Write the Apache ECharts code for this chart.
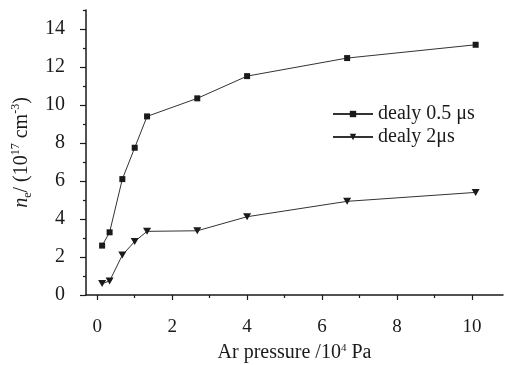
<!DOCTYPE html>
<html>
<head>
<meta charset="utf-8">
<script src="https://cdn.jsdelivr.net/npm/echarts@6/dist/echarts.min.js"></script>
<style>
  html, body { margin: 0; padding: 0; background: #fff; }
  #chart { width: 506px; height: 365px; }
</style>
</head>
<body>
<div id="chart"></div>
<script>
// Ar pressure (10^4 Pa) and electron density (10^17 cm^-3)
const pressure = [0.13, 0.33, 0.67, 1.0, 1.33, 2.67, 4.0, 6.67, 10.1];
const neDelay05 = [2.6, 3.3, 6.1, 7.75, 9.4, 10.35, 11.52, 12.47, 13.17];
const neDelay2 = [0.6, 0.74, 2.1, 2.82, 3.35, 3.38, 4.12, 4.93, 5.4];
const seriesNames = ['dealy 0.5 \u03bcs', 'dealy 2\u03bcs'];
const xMajor = [0, 2, 4, 6, 8, 10];
const xMinor = [1, 3, 5, 7, 9];
const yMajor = [0, 2, 4, 6, 8, 10, 12, 14];
const yMinor = [1, 3, 5, 7, 9, 11, 13, 15];

const FONT = 'Liberation Serif';
const INK = '#1a1a1a';
const X_MIN = -0.3, X_MAX = 10.83, Y_MIN = 0, Y_MAX = 15;

const pairs = (xs, ys) => xs.map((x, i) => [x, ys[i]]);

const chart = echarts.init(document.getElementById('chart'), null, { renderer: 'canvas' });

const axisLine = { show: true, onZero: false, lineStyle: { color: INK, width: 1.5 } };

chart.setOption({
  animation: false,
  backgroundColor: '#fff',
  grid: { left: 86, right: 3, top: 10, bottom: 70, containLabel: false, outerBoundsMode: 'none' },
  legend: {
    orient: 'vertical',
    left: 332,
    top: 104,
    padding: 0,
    itemWidth: 40,
    itemHeight: 8,
    itemGap: 3,
    data: seriesNames,
    textStyle: { fontFamily: FONT, fontSize: 20, color: INK, padding: [0, 0, 0, 0] }
  },
  xAxis: [
    {
      type: 'value', min: X_MIN, max: X_MAX, position: 'bottom',
      axisLine: axisLine,
      axisTick: { show: true, customValues: xMajor, length: 5, lineStyle: { color: INK, width: 1.2 } },
      axisLabel: { customValues: xMajor, fontFamily: FONT, fontSize: 19, color: INK, margin: 23 },
      splitLine: { show: false },
      name: '{t|Ar pressure /10}{sup|4}{t| Pa}',
      nameLocation: 'middle',
      nameGap: 48,
      nameTextStyle: {
        rich: {
          t: { fontFamily: FONT, fontSize: 20, color: INK },
          sup: { fontFamily: FONT, fontSize: 11, color: INK, verticalAlign: 'top', lineHeight: 20 }
        }
      }
    },
    {
      type: 'value', min: X_MIN, max: X_MAX, position: 'bottom',
      axisLine: { show: false, onZero: false },
      axisTick: { show: true, customValues: xMinor, length: 3, lineStyle: { color: INK, width: 1.2 } },
      axisLabel: { show: false },
      splitLine: { show: false }
    }
  ],
  yAxis: [
    {
      type: 'value', min: Y_MIN, max: Y_MAX, position: 'left',
      axisLine: axisLine,
      axisTick: { show: true, customValues: yMajor, length: 6, lineStyle: { color: INK, width: 1.2 } },
      axisLabel: { customValues: yMajor, fontFamily: FONT, fontSize: 20, color: INK, margin: 21 },
      splitLine: { show: false },
      name: '{i|n}{sub|e}{t|/ (10}{sup|17}{t| cm}{sup|-3}{t|)}',
      nameLocation: 'middle',
      nameGap: 48,
      nameTextStyle: {
        rich: {
          i: { fontFamily: FONT, fontSize: 20, fontStyle: 'italic', color: INK },
          sub: { fontFamily: FONT, fontSize: 12, color: INK, verticalAlign: 'bottom', lineHeight: 24 },
          t: { fontFamily: FONT, fontSize: 20, color: INK },
          sup: { fontFamily: FONT, fontSize: 12, color: INK, verticalAlign: 'top', lineHeight: 20 }
        }
      }
    },
    {
      type: 'value', min: Y_MIN, max: Y_MAX, position: 'left',
      axisLine: { show: false, onZero: false },
      axisTick: { show: true, customValues: yMinor, length: 3, lineStyle: { color: INK, width: 1.2 } },
      axisLabel: { show: false },
      splitLine: { show: false }
    }
  ],
  series: [
    {
      name: seriesNames[0],
      type: 'line',
      data: pairs(pressure, neDelay05),
      symbol: 'rect',
      symbolSize: 6,
      lineStyle: { color: '#333', width: 1 },
      itemStyle: { color: INK, borderWidth: 0 }
    },
    {
      name: seriesNames[1],
      type: 'line',
      data: pairs(pressure, neDelay2),
      symbol: 'triangle',
      symbolRotate: 180,
      symbolSize: [8, 7],
      lineStyle: { color: '#333', width: 1 },
      itemStyle: { color: INK, borderWidth: 0 }
    }
  ]
});
</script>
</body>
</html>
